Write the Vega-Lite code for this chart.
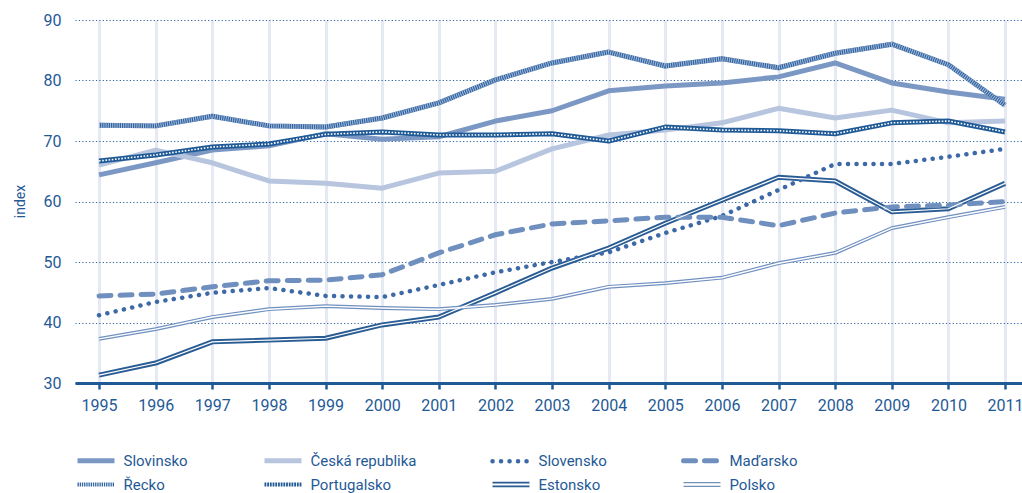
{
  "$schema": "https://vega.github.io/schema/vega-lite/v6.json",
  "width": 947,
  "height": 363,
  "autosize": "none",
  "padding": {"left": 75, "top": 20, "right": 0, "bottom": 110},
  "background": "white",
  "config": {
    "view": {"stroke": null},
    "font": "Roboto",
    "axis": {"labelFont": "Roboto", "titleFont": "Roboto", "labelColor": "#1f5a96", "titleColor": "#1f5a96"}
  },
  "data": {"values": [
    {"country":"Slovinsko","year":1995,"value":64.4},{"country":"Slovinsko","year":1996,"value":66.4},{"country":"Slovinsko","year":1997,"value":68.5},{"country":"Slovinsko","year":1998,"value":69.2},{"country":"Slovinsko","year":1999,"value":71.2},{"country":"Slovinsko","year":2000,"value":70.3},{"country":"Slovinsko","year":2001,"value":70.7},{"country":"Slovinsko","year":2002,"value":73.3},{"country":"Slovinsko","year":2003,"value":75.0},{"country":"Slovinsko","year":2004,"value":78.3},{"country":"Slovinsko","year":2005,"value":79.1},{"country":"Slovinsko","year":2006,"value":79.6},{"country":"Slovinsko","year":2007,"value":80.6},{"country":"Slovinsko","year":2008,"value":82.9},{"country":"Slovinsko","year":2009,"value":79.6},{"country":"Slovinsko","year":2010,"value":78.1},{"country":"Slovinsko","year":2011,"value":76.9},
    {"country":"Česká republika","year":1995,"value":66.0},{"country":"Česká republika","year":1996,"value":68.5},{"country":"Česká republika","year":1997,"value":66.4},{"country":"Česká republika","year":1998,"value":63.4},{"country":"Česká republika","year":1999,"value":63.0},{"country":"Česká republika","year":2000,"value":62.2},{"country":"Česká republika","year":2001,"value":64.7},{"country":"Česká republika","year":2002,"value":65.0},{"country":"Česká republika","year":2003,"value":68.7},{"country":"Česká republika","year":2004,"value":71.0},{"country":"Česká republika","year":2005,"value":71.8},{"country":"Česká republika","year":2006,"value":73.0},{"country":"Česká republika","year":2007,"value":75.4},{"country":"Česká republika","year":2008,"value":73.8},{"country":"Česká republika","year":2009,"value":75.1},{"country":"Česká republika","year":2010,"value":73.0},{"country":"Česká republika","year":2011,"value":73.3},
    {"country":"Slovensko","year":1995,"value":41.2},{"country":"Slovensko","year":1996,"value":43.4},{"country":"Slovensko","year":1997,"value":44.9},{"country":"Slovensko","year":1998,"value":45.7},{"country":"Slovensko","year":1999,"value":44.4},{"country":"Slovensko","year":2000,"value":44.2},{"country":"Slovensko","year":2001,"value":46.2},{"country":"Slovensko","year":2002,"value":48.3},{"country":"Slovensko","year":2003,"value":50.0},{"country":"Slovensko","year":2004,"value":51.6},{"country":"Slovensko","year":2005,"value":54.8},{"country":"Slovensko","year":2006,"value":57.6},{"country":"Slovensko","year":2007,"value":61.9},{"country":"Slovensko","year":2008,"value":66.2},{"country":"Slovensko","year":2009,"value":66.2},{"country":"Slovensko","year":2010,"value":67.4},{"country":"Slovensko","year":2011,"value":68.7},
    {"country":"Maďarsko","year":1995,"value":44.4},{"country":"Maďarsko","year":1996,"value":44.7},{"country":"Maďarsko","year":1997,"value":45.9},{"country":"Maďarsko","year":1998,"value":46.9},{"country":"Maďarsko","year":1999,"value":47.0},{"country":"Maďarsko","year":2000,"value":47.9},{"country":"Maďarsko","year":2001,"value":51.5},{"country":"Maďarsko","year":2002,"value":54.5},{"country":"Maďarsko","year":2003,"value":56.3},{"country":"Maďarsko","year":2004,"value":56.8},{"country":"Maďarsko","year":2005,"value":57.4},{"country":"Maďarsko","year":2006,"value":57.4},{"country":"Maďarsko","year":2007,"value":56.0},{"country":"Maďarsko","year":2008,"value":58.1},{"country":"Maďarsko","year":2009,"value":59.1},{"country":"Maďarsko","year":2010,"value":59.4},{"country":"Maďarsko","year":2011,"value":60.0},
    {"country":"Řecko","year":1995,"value":72.6},{"country":"Řecko","year":1996,"value":72.5},{"country":"Řecko","year":1997,"value":74.1},{"country":"Řecko","year":1998,"value":72.5},{"country":"Řecko","year":1999,"value":72.3},{"country":"Řecko","year":2000,"value":73.8},{"country":"Řecko","year":2001,"value":76.3},{"country":"Řecko","year":2002,"value":80.1},{"country":"Řecko","year":2003,"value":82.9},{"country":"Řecko","year":2004,"value":84.7},{"country":"Řecko","year":2005,"value":82.4},{"country":"Řecko","year":2006,"value":83.6},{"country":"Řecko","year":2007,"value":82.1},{"country":"Řecko","year":2008,"value":84.5},{"country":"Řecko","year":2009,"value":86.0},{"country":"Řecko","year":2010,"value":82.6},{"country":"Řecko","year":2011,"value":75.9},
    {"country":"Portugalsko","year":1995,"value":66.7},{"country":"Portugalsko","year":1996,"value":67.7},{"country":"Portugalsko","year":1997,"value":69.0},{"country":"Portugalsko","year":1998,"value":69.5},{"country":"Portugalsko","year":1999,"value":71.1},{"country":"Portugalsko","year":2000,"value":71.5},{"country":"Portugalsko","year":2001,"value":71.0},{"country":"Portugalsko","year":2002,"value":71.0},{"country":"Portugalsko","year":2003,"value":71.2},{"country":"Portugalsko","year":2004,"value":70.0},{"country":"Portugalsko","year":2005,"value":72.3},{"country":"Portugalsko","year":2006,"value":71.8},{"country":"Portugalsko","year":2007,"value":71.7},{"country":"Portugalsko","year":2008,"value":71.2},{"country":"Portugalsko","year":2009,"value":73.0},{"country":"Portugalsko","year":2010,"value":73.3},{"country":"Portugalsko","year":2011,"value":71.5},
    {"country":"Estonsko","year":1995,"value":31.3},{"country":"Estonsko","year":1996,"value":33.3},{"country":"Estonsko","year":1997,"value":36.8},{"country":"Estonsko","year":1998,"value":37.1},{"country":"Estonsko","year":1999,"value":37.4},{"country":"Estonsko","year":2000,"value":39.6},{"country":"Estonsko","year":2001,"value":40.9},{"country":"Estonsko","year":2002,"value":44.9},{"country":"Estonsko","year":2003,"value":49.0},{"country":"Estonsko","year":2004,"value":52.3},{"country":"Estonsko","year":2005,"value":56.4},{"country":"Estonsko","year":2006,"value":60.2},{"country":"Estonsko","year":2007,"value":64.0},{"country":"Estonsko","year":2008,"value":63.4},{"country":"Estonsko","year":2009,"value":58.3},{"country":"Estonsko","year":2010,"value":58.8},{"country":"Estonsko","year":2011,"value":63.0},
    {"country":"Polsko","year":1995,"value":37.3},{"country":"Polsko","year":1996,"value":38.9},{"country":"Polsko","year":1997,"value":40.9},{"country":"Polsko","year":1998,"value":42.2},{"country":"Polsko","year":1999,"value":42.7},{"country":"Polsko","year":2000,"value":42.4},{"country":"Polsko","year":2001,"value":42.2},{"country":"Polsko","year":2002,"value":42.9},{"country":"Polsko","year":2003,"value":43.9},{"country":"Polsko","year":2004,"value":45.9},{"country":"Polsko","year":2005,"value":46.5},{"country":"Polsko","year":2006,"value":47.4},{"country":"Polsko","year":2007,"value":49.8},{"country":"Polsko","year":2008,"value":51.5},{"country":"Polsko","year":2009,"value":55.6},{"country":"Polsko","year":2010,"value":57.4},{"country":"Polsko","year":2011,"value":59.1}
  ]},
  "encoding": {
    "x": {"field": "year", "type": "quantitative",
      "scale": {"domain": [1994.576, 2011.3], "nice": false, "zero": false},
      "axis": {"title": null, "values": [1995,1996,1997,1998,1999,2000,2001,2002,2003,2004,2005,2006,2007,2008,2009,2010,2011],
        "format": "d", "labelFontSize": 16, "labelPadding": 8, "tickSize": 6, "tickWidth": 2.5, "tickColor": "#1f5a96",
        "domainColor": "#1f5a96", "domainWidth": 3, "grid": true, "gridColor": "#e4e9f3", "gridWidth": 3, "labelFlush": false}},
    "y": {"field": "value", "type": "quantitative",
      "scale": {"domain": [30, 90], "nice": false, "zero": false},
      "axis": {"title": "index", "values": [30,40,50,60,70,80,90], "labelFontSize": 16, "labelPadding": 14, "ticks": false, "domain": false,
        "grid": true, "gridColor": "#2f64a0", "gridDash": [1.2, 2.2], "gridWidth": 1.2,
        "titleFontSize": 14, "titleFontWeight": "normal", "titleX": -48, "titleY": 181, "titleBaseline": "bottom", "titleAngle": -90}}
  },
  "layer": [
    {"transform": [{"filter": "indexof(['Slovinsko','Česká republika','Estonsko','Portugalsko','Řecko'], datum.country) >= 0"}],
     "mark": {"type": "line", "strokeWidth": 5, "strokeJoin": "round"},
     "encoding": {"color": {"field": "country", "type": "nominal",
        "scale": {"domain": ["Slovinsko","Česká republika","Slovensko","Maďarsko","Řecko","Portugalsko","Estonsko","Polsko"],
                  "range": ["#7b98c4","#b7c5df","#3d6aa6","#6f8fbe","#2f64a0","#1f5a96","#2a5c94","#7090c0"]},
        "legend": {"title": null, "orient": "none", "legendX": 1, "legendY": 433, "direction": "horizontal", "columns": 4,
          "columnPadding": 66, "rowPadding": 5, "gridAlign": "each", "symbolType": "stroke", "symbolSize": 1369, "symbolStrokeWidth": 5,
          "symbolOffset": 12.5,
          "labelFont": "Roboto", "labelFontSize": 15, "labelColor": "#1f5a96", "labelOffset": 20,
          "encode": {"symbols": {"update": {
            "shape": {"signal": "(datum.value === 'Estonsko' || datum.value === 'Polsko') ? 'M-1,-0.1H1M-1,0.1H1' : 'stroke'"},
            "strokeDash": {"signal": "datum.value === 'Slovensko' ? [0.1, 8.4] : datum.value === 'Maďarsko' ? [12, 9] : datum.value === 'Řecko' ? [1.3, 0.9] : datum.value === 'Portugalsko' ? [1.8, 0.9] : [1, 0]"},
            "strokeWidth": {"signal": "datum.value === 'Estonsko' ? 1.8 : datum.value === 'Polsko' ? 1.2 : datum.value === 'Slovensko' ? 4.5 : datum.value === 'Řecko' ? 4 : datum.value === 'Portugalsko' ? 4 : 5"},
            "strokeCap": {"signal": "(datum.value === 'Slovensko' || datum.value === 'Maďarsko') ? 'round' : 'butt'"}
          }}}}}}},
    {"transform": [{"filter": "datum.country === 'Polsko'"}],
     "mark": {"type": "line", "strokeWidth": 3.8, "strokeJoin": "round"},
     "encoding": {"color": {"field": "country", "type": "nominal"}}},
    {"transform": [{"filter": "datum.country === 'Slovensko'"}],
     "mark": {"type": "line", "strokeWidth": 4.5, "strokeDash": [0.1, 8.4], "strokeCap": "round"},
     "encoding": {"color": {"field": "country", "type": "nominal"}}},
    {"transform": [{"filter": "datum.country === 'Maďarsko'"}],
     "mark": {"type": "line", "strokeWidth": 5, "strokeDash": [12, 9], "strokeCap": "round"},
     "encoding": {"color": {"field": "country", "type": "nominal"}}},
    {"transform": [{"filter": "datum.country === 'Řecko'"}],
     "mark": {"type": "line", "strokeWidth": 5, "strokeDash": [1, 1.2], "color": "#a9bcdb"},
     "encoding": {}},
    {"transform": [{"filter": "datum.country === 'Portugalsko'"}],
     "mark": {"type": "line", "strokeWidth": 1.6, "strokeDash": [1.6, 1.6], "color": "white"},
     "encoding": {}},
    {"transform": [{"filter": "datum.country === 'Estonsko'"}],
     "mark": {"type": "line", "strokeWidth": 1.2, "color": "white", "strokeJoin": "round"},
     "encoding": {}},
    {"transform": [{"filter": "datum.country === 'Polsko'"}],
     "mark": {"type": "line", "strokeWidth": 1.4, "color": "white", "strokeJoin": "round"},
     "encoding": {}}
  ]
}
